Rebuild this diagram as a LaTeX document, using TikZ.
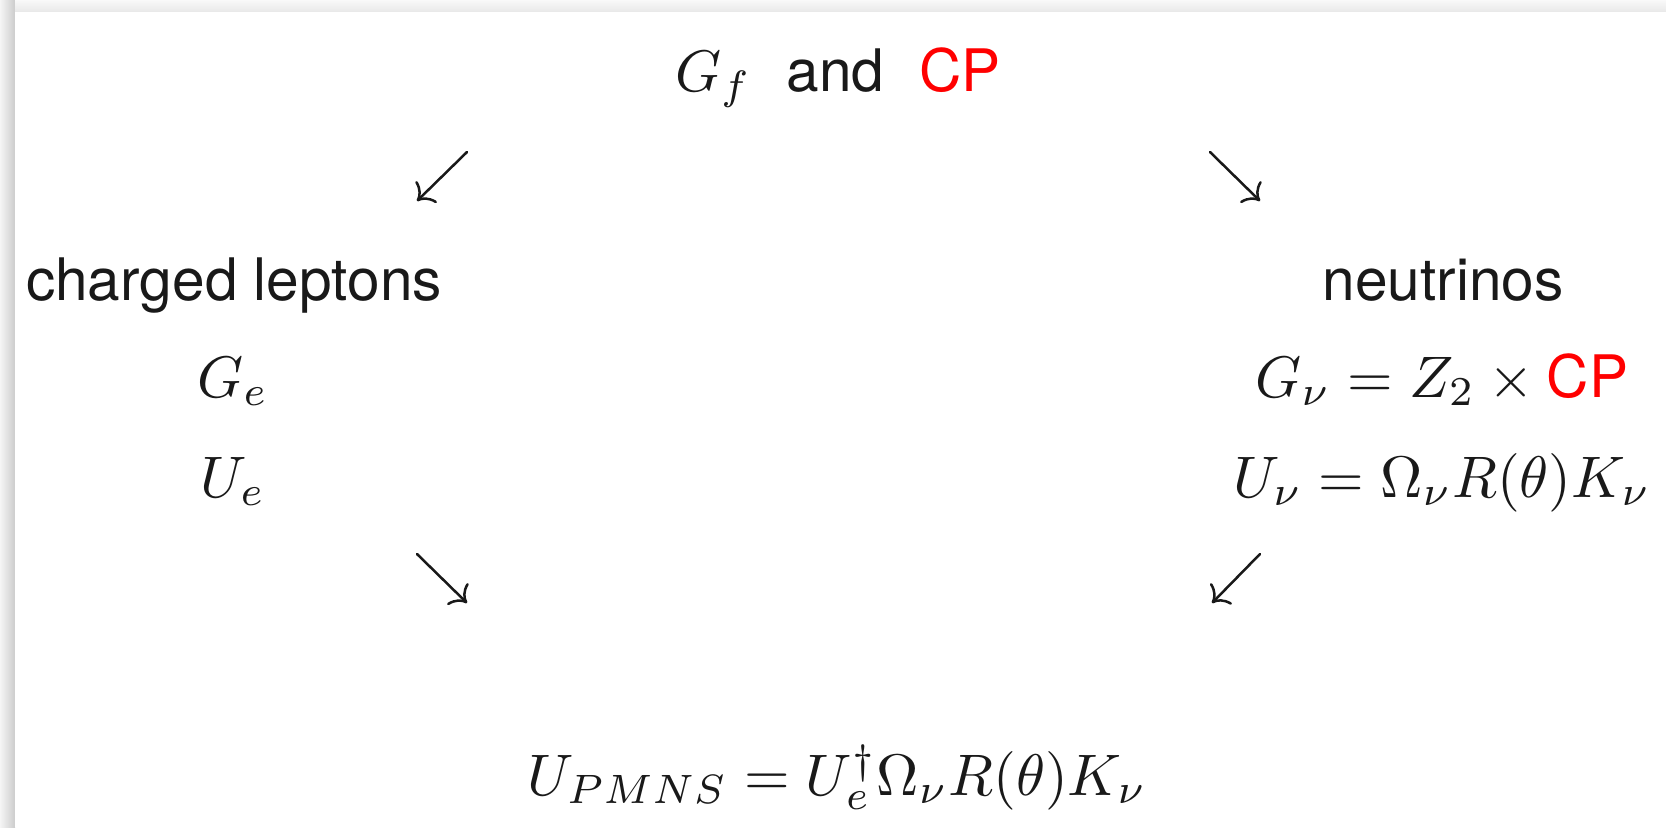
\documentclass[tikz,border=0pt]{standalone}
\usepackage{graphicx}
\usepackage{fontspec}
\setsansfont{TeX Gyre Heros}
\usetikzlibrary{arrows.meta}
\definecolor{cpred}{RGB}{255,0,0}
\newcommand{\slidesize}[1]{\scalebox{2.93}{\fontsize{10}{12}\selectfont #1}}
\newcommand{\cpword}{\mbox{\sffamily\color{cpred}CP}}
\tikzset{
  lbl/.style={anchor=base, inner sep=0pt, text=black!90},
  flow/.style={line width=1.25pt, line cap=round, black!90,
    -{Computer Modern Rightarrow[length=7pt,width=15pt,line width=1.25pt]}}
}
\begin{document}
\begin{tikzpicture}[x=0.5pt,y=-0.5pt]
\useasboundingbox (0,0) rectangle (1666,827);
% page shadow
\fill[gray!7] (0,0) rectangle (1666,827);
\shade[left color=gray!8, right color=gray!40] (0,0) rectangle (15,827);
\shade[top color=gray!5, bottom color=gray!18] (15,0) rectangle (1666,12);
\fill[white] (15,12) rectangle (1666,827);

% texts
\node[lbl] (top) at (838,91) {\slidesize{$G_f$\hspace{6pt}{\sffamily and}\hspace{6pt}\cpword}};
\node[lbl] (cl) at (234,300) {\slidesize{\sffamily charged leptons}};
\node[lbl] (nu) at (1443,300) {\slidesize{\sffamily neutrinos}};
\node[lbl] (Ge) at (233,397) {\slidesize{$G_e$}};
\node[lbl] (Ue) at (233,497) {\slidesize{$U_e$}};
\node[lbl] (Gnu) at (1442,397) {\slidesize{$G_\nu = Z_2 \times \cpword$}};
\node[lbl] (Unu) at (1442,497) {\slidesize{$U_\nu = \Omega_\nu R(\theta) K_\nu$}};
\node[lbl] (pmns) at (837,795) {\slidesize{$U_{PMNS} = U_e^\dagger \Omega_\nu R(\theta) K_\nu$}};

% arrows
\coordinate (a1s) at (467,152); \coordinate (a1e) at (417,201);
\coordinate (a2s) at (1210,152); \coordinate (a2e) at (1260,201);
\coordinate (a3s) at (417,554); \coordinate (a3e) at (467,603);
\coordinate (a4s) at (1260,554); \coordinate (a4e) at (1212,603);
\draw[flow] (a1s) -- (a1e);
\draw[flow] (a2s) -- (a2e);
\draw[flow] (a3s) -- (a3e);
\draw[flow] (a4s) -- (a4e);
\end{tikzpicture}
\end{document}
